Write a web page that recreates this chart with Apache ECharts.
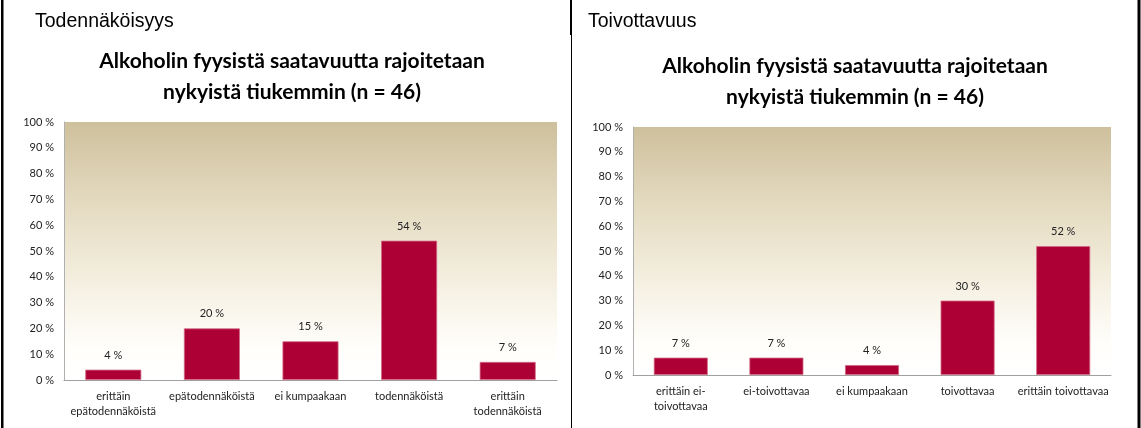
<!DOCTYPE html>
<html>
<head>
<meta charset="utf-8">
<script src="https://cdn.jsdelivr.net/npm/echarts@6/dist/echarts.min.js"></script>
<style>
html,body{margin:0;padding:0;background:#fff;}
#main{width:1141px;height:428px;}
</style>
</head>
<body>
<div id="main"></div>
<script>
// data
var todCategories = ['erittäin\nepätodennäköistä', 'epätodennäköistä', 'ei kumpaakaan', 'todennäköistä', 'erittäin\ntodennäköistä']
var todValues = [4, 20, 15, 54, 7]
var toiCategories = ['erittäin ei-\ntoivottavaa', 'ei-toivottavaa', 'ei kumpaakaan', 'toivottavaa', 'erittäin toivottavaa']
var toiValues = [7, 7, 4, 30, 52]
var yTicks = [0, 10, 20, 30, 40, 50, 60, 70, 80, 90, 100]
var mainTitle = 'Alkoholin fyysistä saatavuutta rajoitetaan\nnykyistä tiukemmin (n = 46)'

var barColor = '#ad0034'
var labelFont = 'Lato'

var bgGrad = {
    type: 'linear', x: 0, y: 0, x2: 0, y2: 1,
    colorStops: [
        {offset: 0, color: '#cec09c'},
        {offset: 0.3, color: '#e3d9bf'},
        {offset: 0.5, color: '#eee7d3'},
        {offset: 0.7, color: '#f8f4e9'},
        {offset: 0.88, color: '#fffefb'},
        {offset: 1, color: '#ffffff'}
    ]
}

function xAx(idx, cats){
    return {
        type: 'category',
        gridIndex: idx,
        data: cats,
        axisTick: {show: false},
        axisLine: {lineStyle: {color: '#a0a0a0', width: 1}},
        axisLabel: {
            interval: 0,
            margin: 9,
            fontSize: 11,
            lineHeight: 15,
            color: '#222',
            fontFamily: labelFont
        }
    }
}

function yAx(idx){
    return {
        type: 'value',
        gridIndex: idx,
        min: yTicks[0],
        max: yTicks[yTicks.length - 1],
        interval: 10,
        splitLine: {show: false},
        axisTick: {show: false},
        axisLine: {show: true, lineStyle: {color: '#b0b0b0', width: 1}},
        axisLabel: {
            formatter: '{value} %',
            margin: 10,
            fontSize: 11,
            color: '#222',
            fontFamily: labelFont
        }
    }
}

function barSeries(idx, vals, w){
    return {
        type: 'bar',
        xAxisIndex: idx,
        yAxisIndex: idx,
        data: vals,
        barWidth: w,
        itemStyle: {color: barColor, borderColor: '#d26a85', borderWidth: 0.8},
        label: {
            show: true,
            position: 'top',
            distance: 9,
            formatter: '{c} %',
            fontSize: 11,
            color: '#222',
            fontFamily: labelFont
        }
    }
}

var myChart = echarts.init(document.getElementById('main'))
var option = {
    backgroundColor: '#fff',
    animation: false,
    title: [
        {text: 'Todennäköisyys', left: 30, top: 7, textStyle: {fontFamily: 'Liberation Sans', fontSize: 19.5, fontWeight: 'normal', color: '#000'}},
        {text: mainTitle, left: 287, top: 41, textAlign: 'center', textStyle: {fontFamily: 'Lato', fontSize: 21, fontWeight: 'bold', lineHeight: 31, color: '#000'}},
        {text: 'Toivottavuus', left: 583, top: 7, textStyle: {fontFamily: 'Liberation Sans', fontSize: 19.5, fontWeight: 'normal', color: '#000'}},
        {text: mainTitle, left: 850, top: 46, textAlign: 'center', textStyle: {fontFamily: 'Lato', fontSize: 21, fontWeight: 'bold', lineHeight: 31, color: '#000'}}
    ],
    grid: [
        {left: 64, top: 122, width: 493, height: 258, show: true, borderWidth: 0, backgroundColor: bgGrad},
        {left: 633, top: 127, width: 478, height: 248, show: true, borderWidth: 0, backgroundColor: bgGrad}
    ],
    xAxis: [xAx(0, todCategories), xAx(1, toiCategories)],
    yAxis: [yAx(0), yAx(1)],
    series: [barSeries(0, todValues, 56), barSeries(1, toiValues, 54)],
    graphic: [
        {type: 'rect', shape: {x: 1, y: 0, width: 2.5, height: 428}, style: {fill: '#000'}},
        {type: 'rect', shape: {x: 570, y: 0, width: 2, height: 35}, style: {fill: '#000'}},
        {type: 'rect', shape: {x: 571, y: 35, width: 1, height: 393}, style: {fill: '#000'}},
        {type: 'rect', shape: {x: 1137.5, y: 0, width: 3, height: 428}, style: {fill: '#000'}}
    ]
}
myChart.setOption(option)
</script>
</body>
</html>
